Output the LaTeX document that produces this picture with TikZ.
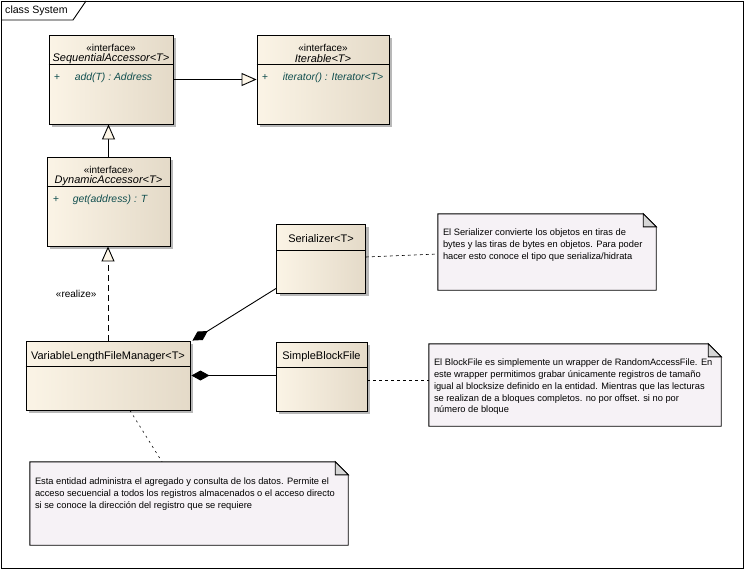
\documentclass[tikz,border=0pt]{standalone}
\usepackage{fontspec}
\setmainfont{Liberation Sans}
\usetikzlibrary{arrows.meta,shadows}

\definecolor{boxleft}{RGB}{251,244,230}
\definecolor{boxright}{RGB}{228,218,200}
\definecolor{notefill}{RGB}{246,242,246}
\definecolor{foldgray}{RGB}{214,214,214}
\definecolor{optext}{RGB}{16,78,78}
\definecolor{trifill}{RGB}{253,246,232}

\tikzstyle{line} = [line width=0.9pt]
\tikzstyle{classbox} = [draw, line width=0.9pt, inner sep=0pt, left color=boxleft, right color=boxright, drop shadow={shadow xshift=3pt, shadow yshift=-3pt, fill=black!28, opacity=1}]
\tikzstyle{notebox} = [inner sep=0pt]
\tikzstyle{txt} = [inner sep=0pt, font=\fontsize{10}{12}\selectfont]
\tikzstyle{ntxt} = [inner sep=0pt, font=\fontsize{11}{13}\selectfont]
\tikzstyle{itxt} = [inner sep=0pt, font=\fontsize{11}{13}\selectfont\itshape]
\tikzstyle{optxt} = [inner sep=0pt, anchor=west, text=optext, font=\fontsize{10.4}{12}\selectfont\itshape]
\tikzstyle{notetxt} = [inner sep=0pt, anchor=north west, align=left, font=\fontsize{9.3}{11.8}\selectfont]
\tikzstyle{gen} = [line width=0.9pt, -{Triangle[length=15pt, width=13pt, fill=trifill]}]
\tikzstyle{real} = [gen, dash pattern=on 6pt off 4pt]
\tikzstyle{comp} = [line width=0.9pt, {Diamond[length=18pt, width=10pt]}-]
\tikzstyle{notelink} = [line width=0.6pt, dash pattern=on 3pt off 3pt]

\begin{document}
\begin{tikzpicture}[x=1pt, y=-1pt]
\useasboundingbox (0,0) rectangle (745,570);

% frame
\draw[line] (1,1) rectangle (743,568);
\draw[line] (1,20) -- (73,20) -- (86,1);
\node[txt, anchor=west, font=\fontsize{10.6}{12}\selectfont] (title) at (5,10.5) {class System};

% interfaces
\node[classbox, minimum width=124pt, minimum height=89pt] (seq) at (111,79.5) {};
\node[classbox, minimum width=132pt, minimum height=89pt] (iter) at (323,79.5) {};
\node[classbox, minimum width=123pt, minimum height=89pt] (dyn) at (108.5,201.5) {};

% classes
\node[classbox, minimum width=89pt, minimum height=69pt] (ser) at (321,258.5) {};
\node[classbox, minimum width=91pt, minimum height=69pt] (sbf) at (321.5,376.5) {};
\node[classbox, minimum width=164pt, minimum height=69pt] (vlfm) at (108,375.5) {};

% compartments
\draw[line] ([yshift=-30pt]seq.north west) -- ([yshift=-30pt]seq.north east);
\draw[line] ([yshift=-30pt]iter.north west) -- ([yshift=-30pt]iter.north east);
\draw[line] ([yshift=-30pt]dyn.north west) -- ([yshift=-30pt]dyn.north east);
\draw[line] ([yshift=-27pt]ser.north west) -- ([yshift=-27pt]ser.north east);
\draw[line] ([yshift=-26pt]sbf.north west) -- ([yshift=-26pt]sbf.north east);
\draw[line] ([yshift=-26pt]vlfm.north west) -- ([yshift=-26pt]vlfm.north east);

% headers
\node[txt] (seqst) at ([yshift=-13pt]seq.north) {«interface»};
\node[itxt] (seqname) at ([yshift=-24pt]seq.north) {SequentialAccessor<T>};
\node[txt] (iterst) at ([yshift=-13pt]iter.north) {«interface»};
\node[itxt] (itername) at ([yshift=-24pt]iter.north) {Iterable<T>};
\node[txt] (dynst) at ([yshift=-13pt]dyn.north) {«interface»};
\node[itxt] (dynname) at ([yshift=-24pt]dyn.north) {DynamicAccessor<T>};
\node[ntxt] (sername) at ([yshift=-15pt]ser.north) {Serializer<T>};
\node[ntxt] (sbfname) at ([yshift=-15pt]sbf.north) {SimpleBlockFile};
\node[ntxt] (vlfmname) at ([yshift=-16pt]vlfm.north) {VariableLengthFileManager<T>};

% operations
\node[optxt] (seqplus) at ([xshift=5pt, yshift=-43pt]seq.north west) {+};
\node[optxt] (seqop) at ([xshift=26pt, yshift=-43pt]seq.north west) {add(T) : Address};
\node[optxt] (iterplus) at ([xshift=5pt, yshift=-43pt]iter.north west) {+};
\node[optxt] (iterop) at ([xshift=26pt, yshift=-43pt]iter.north west) {iterator() : Iterator<T>};
\node[optxt] (dynplus) at ([xshift=6pt, yshift=-43pt]dyn.north west) {+};
\node[optxt] (dynop) at ([xshift=26pt, yshift=-43pt]dyn.north west) {get(address) : T};

% notes
\node[notebox, minimum width=218pt, minimum height=76pt] (sernote) at (547,252) {};
\node[notebox, minimum width=292pt, minimum height=82pt] (blknote) at (575,385) {};
\node[notebox, minimum width=318pt, minimum height=83pt] (estanote) at (189,503.5) {};
\foreach \n in {sernote,blknote,estanote} {
  \draw[line, fill=notefill] (\n.north west) -- ([xshift=-13pt]\n.north east) -- ([yshift=-13pt]\n.north east) -- (\n.south east) -- (\n.south west) -- cycle;
  \draw[line, fill=foldgray] ([xshift=-13pt]\n.north east) -- ([xshift=-13pt, yshift=-13pt]\n.north east) -- ([yshift=-13pt]\n.north east) -- cycle;
}
\node[notetxt] (sertext) at ([xshift=5pt, yshift=-15pt]sernote.north west) {El Serializer convierte los objetos en tiras de\\bytes y las tiras de bytes en objetos. Para poder\\hacer esto conoce el tipo que serializa/hidrata};
\node[notetxt] (blktext) at ([xshift=5pt, yshift=-15pt]blknote.north west) {El BlockFile es simplemente un wrapper de RandomAccessFile. En\\este wrapper permitimos grabar únicamente registros de tamaño\\igual al blocksize definido en la entidad. Mientras que las lecturas\\se realizan de a bloques completos. no por offset. si no por\\número de bloque};
\node[notetxt] (estatext) at ([xshift=5pt, yshift=-16pt]estanote.north west) {Esta entidad administra el agregado y consulta de los datos. Permite el\\acceso secuencial a todos los registros almacenados o el acceso directo\\si se conoce la dirección del registro que se requiere};

% relations
\draw[gen] (seq.east) -- (seq.east -| iter.west);
\draw[gen] (dyn.north) -- (dyn.north |- seq.south);
\draw[real] (vlfm.north) -- node[txt, left=11pt] (reallbl) {«realize»} (vlfm.north |- dyn.south);
\draw[comp] ([xshift=2pt]vlfm.north east) -- ([yshift=5pt]ser.south west);
\draw[comp] ([xshift=1pt]vlfm.east) -- (vlfm.east -| sbf.west);

% note links
\draw[notelink] ([yshift=1.5pt]ser.east) -- ([yshift=-2pt]sernote.west);
\draw[notelink] ([yshift=-3.5pt]sbf.east) -- ([yshift=-3.5pt]sbf.east -| blknote.west);
\draw[notelink, dash pattern=on 2pt off 4pt] ([xshift=22pt]vlfm.south) -- ([xshift=-27pt]estanote.north);

\end{tikzpicture}
\end{document}
